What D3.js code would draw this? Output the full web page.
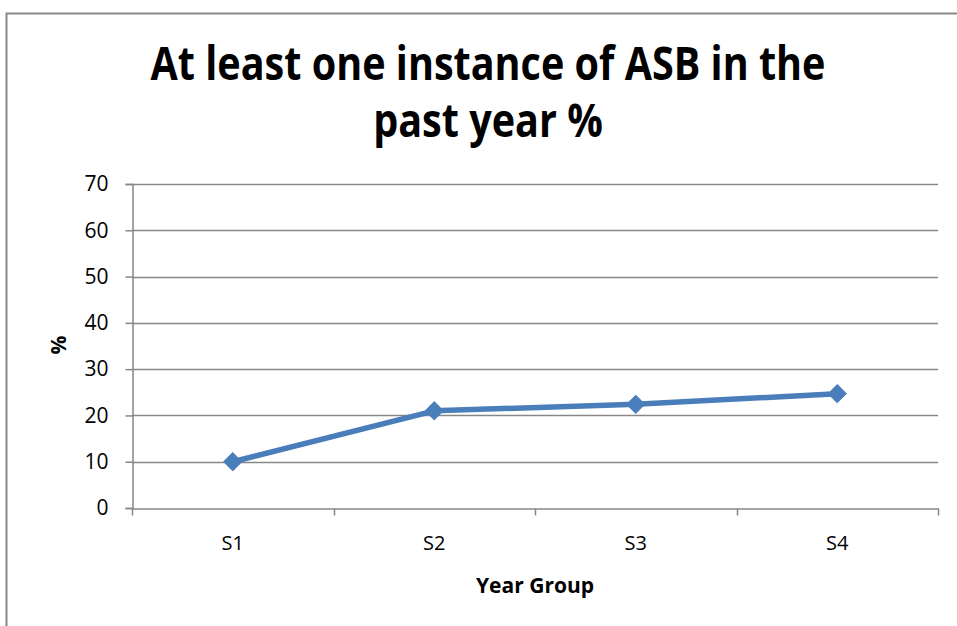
<!DOCTYPE html>
<html>
<head>
<meta charset="utf-8">
<script src="https://cdn.jsdelivr.net/npm/d3@7"></script>
<style>
  html, body { margin: 0; padding: 0; background: #fff; }
  svg { display: block; }
  text { font-family: "Open Sans", "Liberation Sans", sans-serif; }
</style>
</head>
<body>
<script>
const titleLines = ["At least one instance of ASB in the", "past year %"];
const categories = ["S1", "S2", "S3", "S4"];
const values = [10, 21, 22.4, 24.7];
const yTicks = [0, 10, 20, 30, 40, 50, 60, 70];
const xTitle = "Year Group";
const yTitle = "%";

const W = 957, H = 626;
const svg = d3.select("body").append("svg").attr("width", W).attr("height", H);

// outer border
svg.append("rect").attr("x", 6.5).attr("y", 13.5).attr("width", W).attr("height", H)
  .attr("fill", "#fff").attr("stroke", "#888").attr("stroke-width", 2);

const plot = { left: 132, right: 938, top: 184, bottom: 508 };

const x = d3.scaleBand().domain(categories).range([plot.left, plot.right]).padding(0);
const y = d3.scaleLinear().domain([0, 70]).range([plot.bottom, plot.top]);

// gridlines
svg.append("g").selectAll("line").data(yTicks.filter(d => d > 0)).join("line")
  .attr("x1", plot.left).attr("x2", plot.right)
  .attr("y1", d => Math.round(y(d)) + 0.5).attr("y2", d => Math.round(y(d)) + 0.5)
  .attr("stroke", "#878787").attr("stroke-width", 1.5);

// y axis
const yAxis = d3.axisLeft(y).tickValues(yTicks).tickSize(7).tickPadding(17);
const gy = svg.append("g").attr("transform", `translate(${plot.left + 0.5},0)`).call(yAxis);
gy.select(".domain").attr("stroke", "#878787").attr("stroke-width", 1.5);
gy.selectAll(".tick line").attr("stroke", "#878787").attr("stroke-width", 1.5);
gy.selectAll(".tick text").attr("font-size", 21).attr("fill", "#000")
  .style("font-family", "'Open Sans', sans-serif");

// x axis
const xAxis = d3.axisBottom(x).tickSize(0).tickPadding(27);
const gx = svg.append("g").attr("transform", `translate(0,${plot.bottom + 0.5})`).call(xAxis);
gx.select(".domain").attr("stroke", "#878787").attr("stroke-width", 1.5);
gx.selectAll(".tick text").attr("font-size", 20).attr("fill", "#000")
  .style("font-family", "'Open Sans', sans-serif");
// category boundary tick marks
const bounds = categories.map(c => x(c)).concat([x(categories[categories.length - 1]) + x.bandwidth()]);
gx.append("g").selectAll("line").data(bounds).join("line")
  .attr("x1", d => Math.round(d) + 0.5).attr("x2", d => Math.round(d) + 0.5)
  .attr("y1", 0).attr("y2", 7)
  .attr("stroke", "#878787").attr("stroke-width", 1.5);

// line
const line = d3.line().x((d, i) => x(categories[i]) + x.bandwidth() / 2).y(d => y(d));
svg.append("path").datum(values).attr("d", line)
  .attr("fill", "none").attr("stroke", "#4a7ebb").attr("stroke-width", 5.5)
  .attr("stroke-linejoin", "round");

// markers
const sym = d3.symbol().type(d3.symbolDiamond2).size(215);
svg.append("g").selectAll("path").data(values).join("path")
  .attr("transform", (d, i) => `translate(${x(categories[i]) + x.bandwidth() / 2},${y(d)})`)
  .attr("d", sym).attr("fill", "#4a7ebb").attr("stroke", "#4a7ebb").attr("stroke-width", 1);

// title (horizontally condensed to approximate the original narrow face)
const tg = svg.append("g").attr("transform", "translate(488,0) scale(0.86,1)");
tg.selectAll("text").data(titleLines).join("text")
  .attr("x", 0).attr("y", (d, i) => 80 + i * 57)
  .attr("text-anchor", "middle").attr("font-size", 46).attr("font-weight", "bold")
  .attr("fill", "#000").text(d => d);

// axis titles
svg.append("text").attr("x", 535).attr("y", 593)
  .attr("text-anchor", "middle").attr("font-size", 21).attr("font-weight", "bold")
  .attr("fill", "#000").text(xTitle);
svg.append("text").attr("transform", "translate(66,345) rotate(-90)")
  .attr("text-anchor", "middle").attr("font-size", 21).attr("font-weight", "bold")
  .attr("fill", "#000").text(yTitle);
</script>
</body>
</html>
